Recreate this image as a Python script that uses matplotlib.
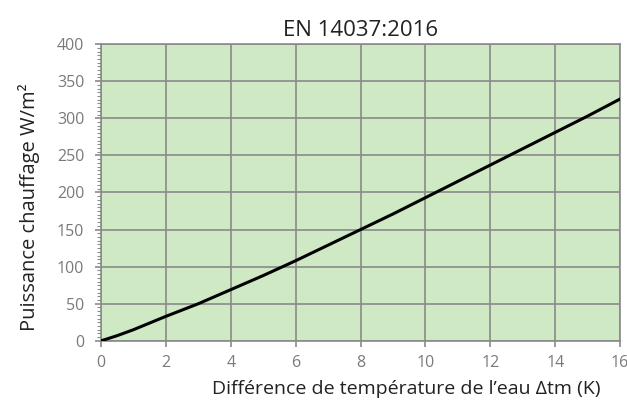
import matplotlib
matplotlib.use("Agg")
import matplotlib.pyplot as plt
from matplotlib.ticker import MultipleLocator

# values
dt = [0, 0.5, 1, 1.5, 2, 3, 4, 5, 6, 7, 8, 9, 10, 11, 12, 13, 14, 15, 16]
power = [0, 7, 15, 24, 33, 50, 69, 88, 108, 129, 150, 171, 193, 215, 237, 259, 281, 303, 326]
x_ticks = [0, 2, 4, 6, 8, 10, 12, 14, 16]
y_ticks = [0, 50, 100, 150, 200, 250, 300, 350, 400]

plt.rcParams['font.family'] = ['Open Sans', 'DejaVu Sans']

fig = plt.figure(figsize=(6.27, 4.01), dpi=100)
ax = fig.add_axes([0.161, 0.150, 0.828, 0.740])
ax.set_facecolor("#cfe9c4")

ax.plot(dt, power, color="black", lw=2.2, zorder=3)

ax.set_xlim(0, 16)
ax.set_ylim(0, 400)
ax.set_xticks(x_ticks)
ax.set_yticks(y_ticks)
ax.yaxis.set_minor_locator(MultipleLocator(5))
ax.grid(True, color="#8a8a8a", lw=1.2)
ax.set_axisbelow(True)

for s in ax.spines.values():
    s.set_color("#8a8a8a")
    s.set_linewidth(1.2)

ax.tick_params(axis="both", which="major", colors="#8a8a8a", labelcolor="#7a7a7a",
               labelsize=11.5, length=4, width=1.2)
ax.tick_params(axis="y", which="minor", colors="#8a8a8a", length=3, width=0.8)
ax.tick_params(axis="y", pad=8)
ax.tick_params(axis="x", pad=6)

ax.set_title("EN 14037:2016", fontsize=16, color="#222222", pad=6)
ax.set_xlabel("Différence de température de l’eau Δtm (K)", fontsize=14, color="#222222", labelpad=7)
ax.xaxis.label.set_x(0.588)
ax.set_ylabel("Puissance chauffage W/m²", fontsize=14.5, color="#222222", labelpad=12)
ax.yaxis.label.set_y(0.45)

fig.savefig("out.png", dpi=100)
